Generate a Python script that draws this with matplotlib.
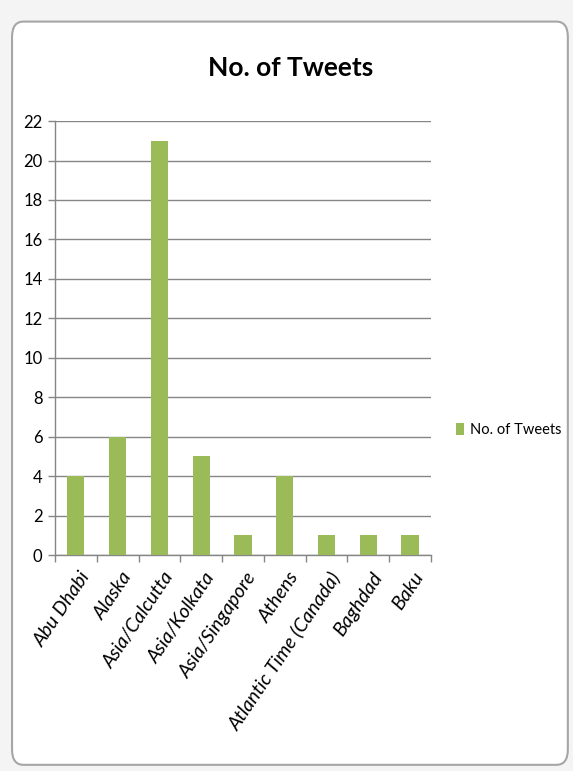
#!/usr/bin/env python

import matplotlib
matplotlib.use('Agg')
import matplotlib.pyplot as plt
import matplotlib.transforms as mtransforms
from matplotlib.patches import FancyBboxPatch, Rectangle
import numpy as np


CATEGORIES = [
    'Abu Dhabi',
    'Alaska',
    'Asia/Calcutta',
    'Asia/Kolkata',
    'Asia/Singapore',
    'Athens',
    'Atlantic Time (Canada)',
    'Baghdad',
    'Baku',
]
TWEETS = [4, 6, 21, 5, 1, 4, 1, 1, 1]
SERIES_NAME = 'No. of Tweets'
Y_TICKS = list(range(0, 23, 2))

FONT = ['Lato', 'DejaVu Sans']
BAR_COLOR = '#9bbb59'
GRID_COLOR = '#868686'


def main():
    plt.rcParams['font.family'] = FONT
    fig = plt.figure(figsize=(5.73, 7.71), dpi=100)
    fig.patch.set_facecolor('#f4f4f4')

    # chart frame (Excel-ish rounded box)
    frame = FancyBboxPatch((0.021, 0.008), 0.970, 0.964,
                           boxstyle='round,pad=0,rounding_size=0.02',
                           transform=fig.transFigure, fc='white',
                           ec='#a6a6a6', lw=1.5, zorder=-10)
    fig.patches.append(frame)

    ax = fig.add_axes([0.096, 0.280, 0.656, 0.563])
    ax.set_facecolor('none')
    x = np.arange(len(CATEGORIES))
    ax.bar(x, TWEETS, width=0.41, color=BAR_COLOR, zorder=3)

    ax.set_xlim(-0.5, len(CATEGORIES) - 0.5)
    ax.set_ylim(0, 22)
    ax.set_yticks(Y_TICKS)
    ax.yaxis.grid(True, color=GRID_COLOR, lw=1.0, zorder=1)
    ax.set_axisbelow(True)
    ax.tick_params(axis='y', length=5, width=1, color=GRID_COLOR,
                   labelsize=12, pad=4)

    # category boundary ticks, labels at centers
    ax.set_xticks(x)
    ax.set_xticks(np.arange(len(CATEGORIES) + 1) - 0.5, minor=True)
    ax.tick_params(axis='x', which='major', length=0, pad=10)
    ax.tick_params(axis='x', which='minor', length=5, width=1,
                   color=GRID_COLOR)
    ax.set_xticklabels(CATEGORIES, rotation=56, ha='right',
                       rotation_mode='anchor', fontsize=14, style='italic')
    offset = mtransforms.ScaledTranslation(0.03, 0, fig.dpi_scale_trans)
    for lbl in ax.get_xticklabels():
        lbl.set_transform(lbl.get_transform() + offset)

    for side in ['top', 'right']:
        ax.spines[side].set_visible(False)
    for side in ['left', 'bottom']:
        ax.spines[side].set_color(GRID_COLOR)
        ax.spines[side].set_linewidth(1)

    fig.text(0.508, 0.912, 'No. of Tweets', ha='center', va='center',
             fontsize=19, fontweight='bold')

    handle = Rectangle((0, 0), 1, 1, fc=BAR_COLOR)
    ax.legend([handle], [SERIES_NAME], loc='center left',
              bbox_to_anchor=(0.795, 0.442),
              bbox_transform=fig.transFigure, frameon=False,
              fontsize=10.5, handlelength=0.6, handleheight=0.9,
              handletextpad=0.4, borderpad=0, borderaxespad=0)

    fig.savefig('out.png', dpi=100, facecolor=fig.get_facecolor())


if __name__ == '__main__':
    main()
